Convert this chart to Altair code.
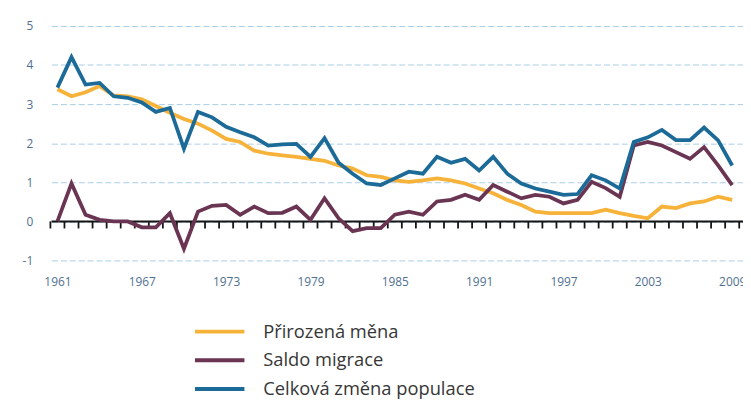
import altair as alt
import pandas as pd

years = list(range(1961, 2010))

natural = [3.38, 3.20, 3.30, 3.46, 3.22, 3.20, 3.12, 2.95, 2.78, 2.62,
           2.50, 2.32, 2.11, 2.03, 1.81, 1.73, 1.69, 1.65, 1.60, 1.55,
           1.43, 1.35, 1.18, 1.14, 1.05, 1.01, 1.05, 1.10, 1.05, 0.97,
           0.84, 0.72, 0.55, 0.42, 0.25, 0.21, 0.21, 0.21, 0.21, 0.30,
           0.21, 0.14, 0.08, 0.38, 0.34, 0.46, 0.51, 0.63, 0.55]

migration = [0.00, 0.97, 0.17, 0.04, 0.00, 0.00, -0.15, -0.15, 0.21, -0.70,
             0.25, 0.40, 0.42, 0.17, 0.38, 0.21, 0.22, 0.38, 0.04, 0.59,
             0.08, -0.25, -0.17, -0.17, 0.17, 0.25, 0.17, 0.51, 0.55, 0.68,
             0.55, 0.93, 0.76, 0.59, 0.68, 0.63, 0.46, 0.55, 1.01, 0.85,
             0.63, 1.94, 2.03, 1.94, 1.77, 1.60, 1.90, 1.43, 0.93]

total = [3.42, 4.20, 3.50, 3.54, 3.20, 3.16, 3.04, 2.80, 2.90, 1.86,
         2.80, 2.66, 2.42, 2.28, 2.15, 1.94, 1.97, 1.98, 1.65, 2.13,
         1.50, 1.22, 0.97, 0.93, 1.10, 1.27, 1.22, 1.65, 1.50, 1.60,
         1.30, 1.65, 1.22, 0.97, 0.84, 0.76, 0.68, 0.70, 1.18, 1.05,
         0.84, 2.03, 2.15, 2.34, 2.08, 2.08, 2.40, 2.07, 1.43]

series_names = ["Přirozená měna", "Saldo migrace", "Celková změna populace"]
series_colors = ["#f7b23a", "#6a3552", "#1b6a98"]

x_label_years = [1961, 1967, 1973, 1979, 1985, 1991, 1997, 2003, 2009]
y_ticks = [-1, 0, 1, 2, 3, 4, 5]
zero_level = [0]
tick_marks = [y - 0.5 for y in years] + [2009.5]

rows = []
for name, vals in zip(series_names, [natural, migration, total]):
    for yr, v in zip(years, vals):
        rows.append({"year": yr, "value": v, "series": name})
df = pd.DataFrame(rows)

zero_df = pd.DataFrame({"value": zero_level})
ticks_df = pd.DataFrame({"year": tick_marks, "value": [0.0] * len(tick_marks),
                         "low": [-0.18] * len(tick_marks)})

x_scale = alt.Scale(domain=[1960.58, 2009.77], nice=False, zero=False)
y_scale = alt.Scale(domain=[-1.25, 5.25], nice=False, zero=False)

label_color = "#4f6f91"
x_axis = alt.Axis(values=x_label_years, format="d", grid=False, domain=False,
                  ticks=False, labelFlush=False, labelPadding=6, labelFontSize=12,
                  labelColor=label_color, labelFont="Open Sans", labelOverlap=False)
y_axis = alt.Axis(values=y_ticks, grid=True, gridDash=[6, 3], gridColor="#a9cde6",
                  gridWidth=1, domain=False, ticks=False, labelPadding=19,
                  labelFontSize=12, labelColor=label_color, labelFont="Open Sans",
                  labelExpr="'' + datum.value")

zero_rule = alt.Chart(zero_df).mark_rule(color="#151515", strokeWidth=2).encode(
    y=alt.Y("value:Q", scale=y_scale, axis=y_axis, title=None)
)

tick_rules = alt.Chart(ticks_df).mark_rule(color="#151515", strokeWidth=1.8).encode(
    x=alt.X("year:Q", scale=x_scale, axis=x_axis, title=None),
    y=alt.Y("value:Q", scale=y_scale, axis=y_axis, title=None),
    y2="low:Q",
)

lines = alt.Chart(df).mark_line(strokeWidth=3.8).encode(
    x=alt.X("year:Q", scale=x_scale, axis=x_axis, title=None),
    y=alt.Y("value:Q", scale=y_scale, axis=y_axis, title=None),
    color=alt.Color(
        "series:N",
        scale=alt.Scale(domain=series_names, range=series_colors),
        legend=alt.Legend(
            title=None, orient="none", legendX=143, legendY=305.5,
            symbolType="stroke", symbolSize=2500, symbolStrokeWidth=4,
            clipHeight=27, rowPadding=2, labelOffset=17, padding=0,
            labelFontSize=18.5, labelFont="Open Sans", labelColor="#363636",
            labelLimit=0,
        ),
    ),
)

chart = alt.layer(zero_rule, tick_rules, lines).properties(
    width=699, height=257,
    autosize=alt.AutoSizeParams(type="none"),
    padding={"left": 44, "top": 6, "right": 0, "bottom": 132},
    background="white",
).configure_view(stroke=None)

chart.save("out.html", embed_options={"renderer": "svg", "actions": False})
